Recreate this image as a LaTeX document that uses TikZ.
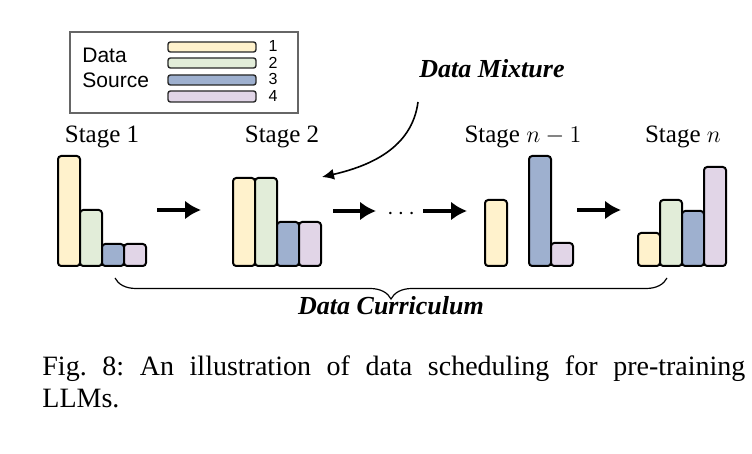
\documentclass[tikz,border=0pt]{standalone}
\usepackage{fontspec}
\setmainfont{Liberation Serif}
\newfontfamily\legendfont{Liberation Sans}
\usetikzlibrary{arrows.meta,decorations.pathreplacing}
\definecolor{cyel}{RGB}{255,242,204}
\definecolor{cgrn}{RGB}{226,237,217}
\definecolor{cblu}{RGB}{158,176,207}
\definecolor{cpur}{RGB}{225,213,231}
\tikzset{
  bar/.style={draw=black,line width=1pt,rounded corners=1.6pt},
  legbar/.style={draw=black!85,line width=0.7pt,rounded corners=1.2pt},
  flow/.style={line width=1.6pt,-{Latex[length=8pt,width=9.5pt]}},
  stagelabel/.style={anchor=base,inner sep=0pt,font=\fontsize{12.5}{15}\selectfont},
  emph/.style={anchor=base,inner sep=0pt,font=\fontsize{13}{15}\selectfont\bfseries\itshape},
  legtext/.style={anchor=base west,inner sep=0pt,font=\legendfont\fontsize{10.5}{12}\selectfont},
  legnum/.style={inner sep=0pt,font=\legendfont\fontsize{8}{9}\selectfont},
  captext/.style={anchor=base west,inner sep=0pt,font=\fontsize{14}{16}\selectfont\frenchspacing}
}
\begin{document}
\begin{tikzpicture}[x=0.5pt,y=-0.5pt]
\useasboundingbox (0,0) rectangle (752,454);
% legend
\node[draw=black!60,line width=1pt,minimum width=114pt,minimum height=40.5pt,anchor=north west,inner sep=0pt] (legend) at (69,31) {};
\node[legtext] (ld) at (82,63) {Data};
\node[legtext] (ls) at (82,88) {Source};
\draw[legbar,fill=cyel] (168,42) rectangle (256,52);
\draw[legbar,fill=cgrn] (168,58) rectangle (256,68);
\draw[legbar,fill=cblu] (168,75) rectangle (256,85);
\draw[legbar,fill=cpur] (168,91) rectangle (256,102);
\node[legnum] (n1) at (273,46) {1};
\node[legnum] (n2) at (273,63) {2};
\node[legnum] (n3) at (273,79) {3};
\node[legnum] (n4) at (273,96) {4};
% stage labels
\node[stagelabel] (s1) at (102,143) {Stage 1};
\node[stagelabel] (s2) at (282,143) {Stage 2};
\node[stagelabel] (sn1) at (523,143) {Stage $n-1$};
\node[stagelabel] (sn) at (683,143) {Stage $n$};
% stage 1 bars
\draw[bar,fill=cyel] (58,156) rectangle (80,266);
\draw[bar,fill=cgrn] (80,210) rectangle (102,266);
\draw[bar,fill=cblu] (102,244) rectangle (124,266);
\draw[bar,fill=cpur] (124,244) rectangle (146,266);
% stage 2 bars
\draw[bar,fill=cyel] (233,178) rectangle (255,266);
\draw[bar,fill=cgrn] (255,178) rectangle (277,266);
\draw[bar,fill=cblu] (277,222) rectangle (299,266);
\draw[bar,fill=cpur] (299,222) rectangle (321,266);
% stage n-1 bars
\draw[bar,fill=cyel] (485,200) rectangle (507,266);
\draw[bar,fill=cblu] (529,156) rectangle (551,266);
\draw[bar,fill=cpur] (551,243) rectangle (573,266);
% stage n bars
\draw[bar,fill=cyel] (638,233) rectangle (660,266);
\draw[bar,fill=cgrn] (660,200) rectangle (682,266);
\draw[bar,fill=cblu] (682,211) rectangle (704,266);
\draw[bar,fill=cpur] (704,167) rectangle (726,266);
% arrows between stages
\coordinate (a1s) at (157,210); \coordinate (a1e) at (201,210);
\coordinate (a2s) at (333,211); \coordinate (a2e) at (376,211);
\coordinate (a3s) at (423,211); \coordinate (a3e) at (467,211);
\coordinate (a4s) at (577,210); \coordinate (a4e) at (621,210);
\draw[flow] (a1s) -- (a1e);
\draw[flow] (a2s) -- (a2e);
\draw[flow] (a3s) -- (a3e);
\draw[flow] (a4s) -- (a4e);
\node[inner sep=0pt,font=\fontsize{12}{12}\selectfont] (dots) at (401,214) {$\cdots$};
% data mixture
\node[emph] (mix) at (492,78) {Data Mixture};
\coordinate (mixs) at (418,102);
\coordinate (mixe) at (322,177);
\draw[line width=0.8pt,-{Latex[length=6pt,width=5.5pt]}] (mixs) .. controls (412,148) and (370,166) .. (mixe);
% brace
\coordinate (bl) at (115,278);
\coordinate (br) at (667,278);
\draw[line width=0.6pt,decorate,decoration={brace,mirror,amplitude=10.5pt}] (bl) -- (br);
\node[emph] (cur) at (391,315) {Data Curriculum};
% caption
\node[captext] (cap1) at (42,376) {\makebox[351.5pt][s]{Fig. 8: An illustration of data scheduling for pre-training}};
\node[captext] (cap2) at (42,408) {LLMs.};
\end{tikzpicture}
\end{document}
